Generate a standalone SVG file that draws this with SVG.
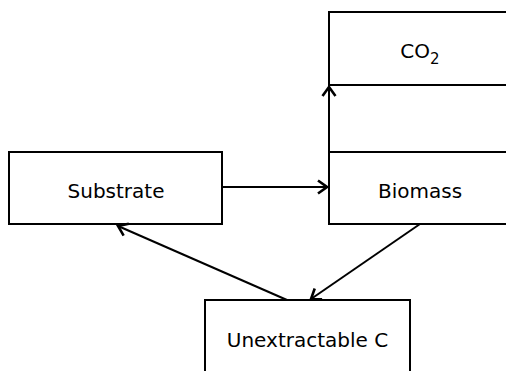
<svg xmlns="http://www.w3.org/2000/svg" width="506" height="371" viewBox="0 0 506 371">
<defs>
<style>
.box{fill:#fff;stroke:#000;stroke-width:2}
.lbl{font-family:"DejaVu Sans",sans-serif;font-size:20px;fill:#000;text-anchor:middle}
.edge{stroke:#000;stroke-width:2;fill:none;marker-end:url(#arr)}
</style>
<marker id="arr" markerUnits="userSpaceOnUse" viewBox="-12 -8 14 16" refX="0" refY="0" markerWidth="14" markerHeight="16" orient="auto">
<path d="M-9,-6.5 L0,0 L-9,6.5" fill="none" stroke="#000" stroke-width="2.6"/>
</marker>
</defs>
<rect width="506" height="371" fill="#fff"/>
<g id="co2">
<rect class="box" x="329" y="12" width="182" height="73"/>
<text class="lbl" x="420" y="58">CO<tspan font-size="15" dy="6">2</tspan></text>
</g>
<g id="biomass">
<rect class="box" x="329" y="152" width="182" height="72"/>
<text class="lbl" x="420" y="198">Biomass</text>
</g>
<g id="substrate">
<rect class="box" x="9" y="152" width="213" height="72"/>
<text class="lbl" x="116" y="198">Substrate</text>
</g>
<g id="unextractable">
<rect class="box" x="205" y="300" width="205" height="80"/>
<text class="lbl" x="307.5" y="347">Unextractable C</text>
</g>
<g id="connectors">
<line class="edge" x1="329" y1="152" x2="329" y2="87"/>
<line class="edge" x1="222" y1="187" x2="327" y2="187"/>
<line class="edge" x1="420" y1="224" x2="311" y2="299"/>
<line class="edge" x1="287" y1="300" x2="118" y2="226"/>
</g>
</svg>
